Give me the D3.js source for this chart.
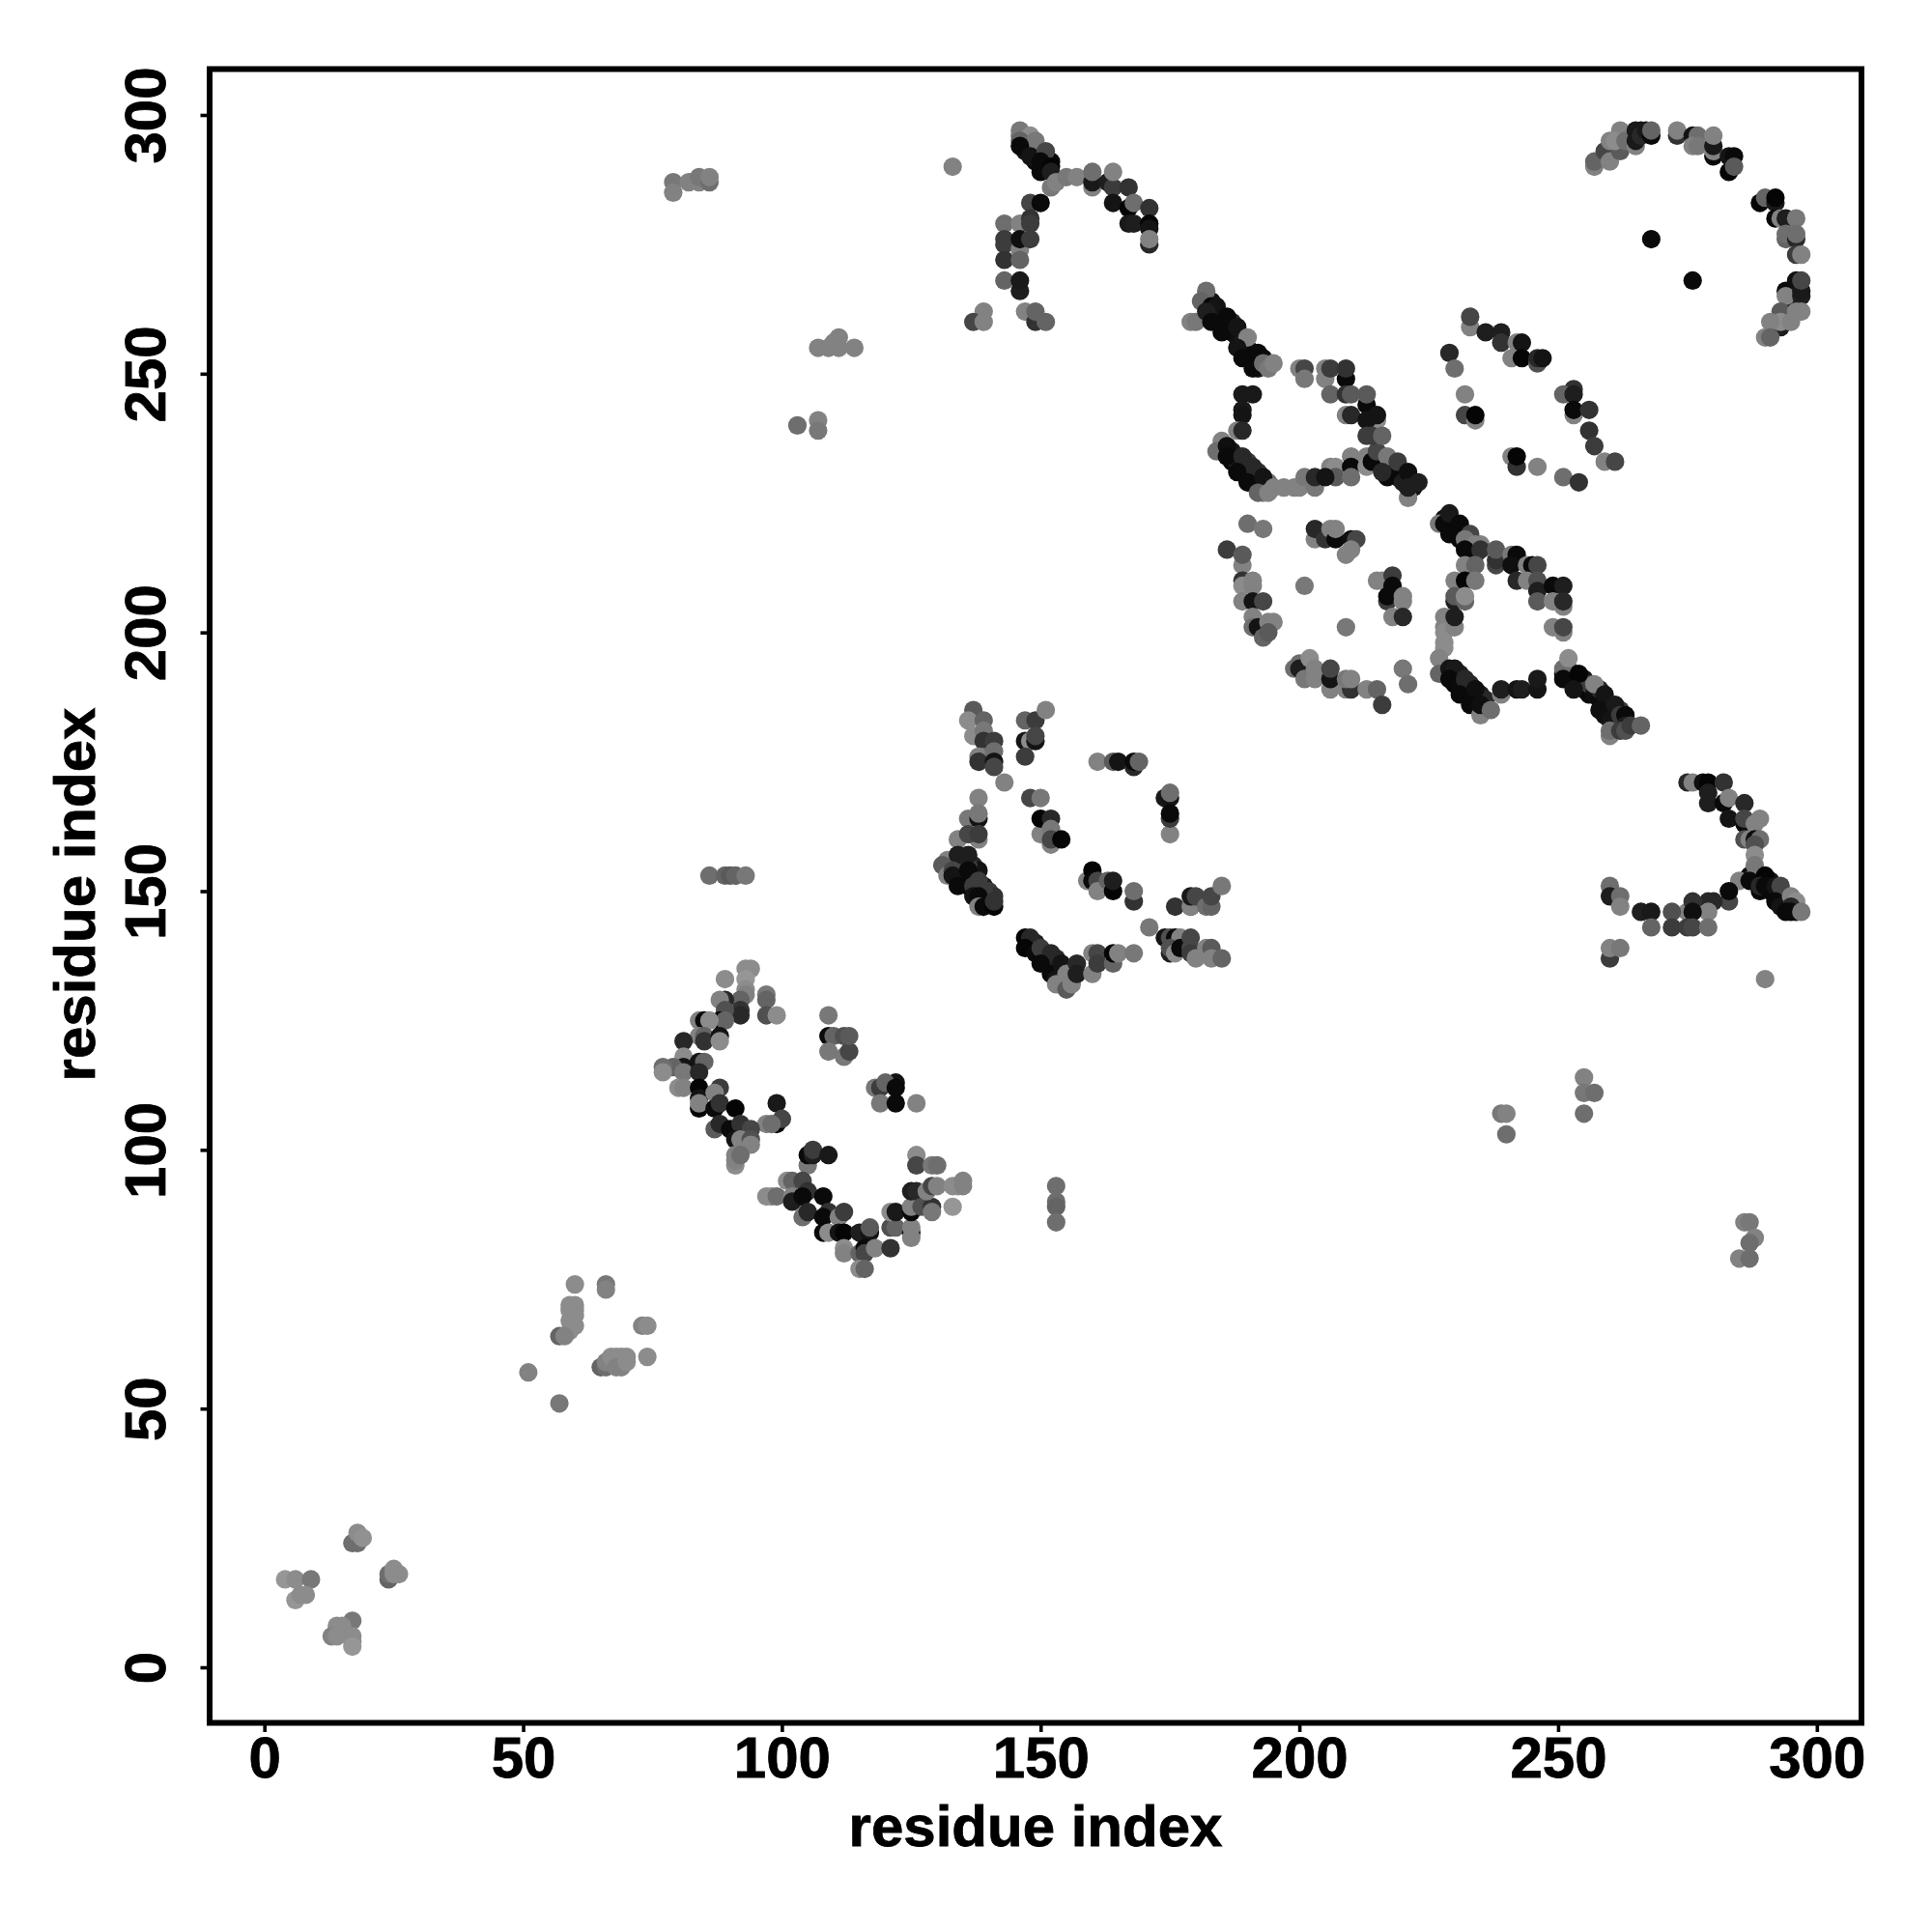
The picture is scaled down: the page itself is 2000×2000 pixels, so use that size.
<!DOCTYPE html>
<html><head><meta charset="utf-8">
<script src="https://cdn.jsdelivr.net/npm/d3@7"></script>
<style>html,body{margin:0;background:#fff}svg{display:block}</style></head>
<body><svg id="c" width="2000" height="2000"></svg>
<script>
// each contact: [residue i, residue j, level]
const bandE=[[183,264,20],[184,262,15],[185,261,30],[186,259,10],[187,260,40],[187,258,10],[188,257,15],[189,256,25],[190,255,15],[190,253,10],[191,254,10],[192,252,5],[193,253,15],[192,251,20],[185,235,10],[187,235,25],[187,233,10],[188,233,50],[189,232,10],[190,233,60],[190,231,15],[191,230,5],[192,229,10],[192,231,50],[193,228,10],[194,229,110],[193,227,130],[215,233,10],[216,234,40],[216,232,15],[217,232,50],[218,231,15],[218,233,70],[219,230,20],[219,232,30],[220,231,20],[220,230,10],[221,229,15],[222,229,30],[222,228,20]];
const bandG=[[228,222,15],[229,221,25],[229,220,10],[230,221,25],[230,219,5],[231,220,30],[231,218,10],[232,219,60],[232,217,15],[233,217,10],[233,218,100],[233,216,20],[234,215,30],[235,217,130],[229,192,15],[230,191,10],[230,190,5],[231,192,30],[231,190,20],[232,189,10],[233,190,40],[233,188,10],[234,187,10],[235,188,30],[235,187,5],[236,186,20],[234,188,80],[236,187,40],[251,192,15],[252,193,100],[252,191,10],[253,192,30],[254,190,10],[255,189,15],[255,191,20],[256,188,10],[256,190,60],[257,188,15],[258,187,10],[258,189,40],[259,186,15],[259,184,15],[260,185,10],[261,184,15],[261,183,10],[262,185,60],[262,183,30]];
const bandD=[[135,155,30],[136,153,15],[137,153,10],[137,155,40],[138,151,5],[138,154,20],[139,149,10],[139,151,30],[140,149,20],[140,148,5],[140,150,60],[141,149,50],[136,155,60],[148,140,10],[149,140,30],[149,139,15],[150,138,10],[151,138,30],[151,137,5],[152,136,20],[153,135,10],[153,137,40],[154,134,10],[155,135,30],[154,133,60],[156,134,40]];
const bandH=[[146,296,110],[147,293,20],[147,295,70],[147,294,15],[148,294,20],[148,293,30],[149,293,40],[149,291,10],[149,292,15],[150,293,50],[150,292,30],[151,291,20],[151,290,15],[152,291,10],[264,296,30],[265,296,15],[266,297,20]];
const bandJ=[[287,153,15],[288,152,5],[288,153,100],[289,152,10],[290,152,10],[291,150,15],[291,152,20],[292,150,15],[292,149,10],[293,149,10],[293,150,40],[294,148,10],[294,149,30],[295,148,15],[296,147,15],[296,146,20]];
const clusterA=[[4,17,150],[6,17,140],[9,17,120],[6,13,150],[7,14,140],[8,14,140],[17,9,120],[14,8,140],[15,8,140],[13,6,130],[14,6,140],[17,6,140],[17,5,140],[17,4,150],[17,24,110],[18,24,110],[18,26,140],[19,25,145],[24,17,100],[24,18,110],[25,18,140],[26,18,140],[25,19,140]];
const clusterB=[[51,57,130],[57,51,120],[60,74,140],[66,74,120],[66,73,130],[59,70,140],[60,70,140],[59,69,140],[60,69,140],[60,68,140],[59,67,140],[60,66,140],[59,65,140],[57,64,100],[58,64,130],[73,66,130],[74,66,140],[74,60,140],[65,58,100],[66,58,110],[66,59,130],[67,60,140],[68,60,140],[69,60,140],[70,60,140],[68,58,130],[69,58,130],[70,59,140]];
const isolated=[[79,287,120],[79,285,130],[82,287,130],[84,287,130],[84,288,120],[86,287,110],[86,288,130],[133,290,130],[109,255,130],[107,255,130],[111,255,130],[111,257,130],[110,256,130],[114,255,130],[103,240,110],[107,241,130],[107,239,120],[86,153,110],[89,153,100],[90,153,90],[91,153,100],[93,153,120],[153,93,110],[153,90,110],[153,89,100],[153,86,110],[255,114,130],[255,111,120],[257,111,110],[255,107,110],[239,107,120],[240,107,130],[240,103,110],[286,86,130],[287,86,120],[288,83,130],[287,82,110],[285,79,130],[287,79,110],[290,133,130]];
const clusterC=[[89,133,140],[93,135,140],[94,135,140],[93,133,150],[93,131,140],[93,130,130],[92,129,100],[92,127,50],[92,126,40],[89,129,40],[88,129,130],[89,127,80],[88,125,10],[89,125,100],[97,130,120],[97,129,100],[97,126,80],[99,126,140],[84,125,130],[85,125,10],[86,125,140],[84,122,130],[85,122,100],[85,121,50],[88,122,20],[88,121,140],[81,121,40],[81,118,140],[81,116,20],[79,116,100],[77,116,110],[77,115,140],[81,115,120],[84,117,20],[85,117,100],[84,115,40],[80,112,140],[81,112,130],[84,112,5],[84,110,20],[84,108,5],[84,109,130],[88,112,60],[87,111,130],[87,108,10],[88,109,50],[91,108,5],[99,109,25],[99,105,5],[100,106,70],[97,105,130],[98,105,110],[87,104,90],[88,105,40],[90,104,10],[92,105,50],[94,104,70],[91,102,20],[92,102,130],[94,102,80],[94,101,130],[91,97,140],[91,98,130],[91,99,130],[92,99,110],[109,122,10],[110,122,100],[112,122,80],[109,126,120],[109,119,120],[112,118,120],[113,119,70],[113,122,90],[118,112,120],[119,112,60],[122,113,20],[120,113,100],[122,112,10],[119,109,120],[122,109,10],[126,109,130],[105,97,120],[105,99,10],[106,99,30],[106,100,60],[109,99,25],[97,91,140],[98,91,140],[99,91,110],[101,94,140],[102,94,100],[104,94,70],[102,91,130],[102,90,30],[105,92,50],[104,91,10],[108,91,10],[104,87,110],[105,88,40],[109,88,50],[108,87,10],[111,87,130],[112,88,60],[108,84,10],[109,84,140],[111,84,20],[112,84,5],[115,84,30],[117,84,20],[117,85,90],[112,81,140],[112,80,130],[115,80,100],[116,81,10],[116,80,70],[118,81,130],[115,77,140],[116,77,100],[121,81,50],[121,85,80],[122,85,100],[121,88,140],[122,88,25],[125,84,10],[125,83,130],[125,85,130],[125,88,10],[125,89,130],[125,92,30],[126,92,40],[126,99,140],[126,97,70],[129,97,120],[130,97,110],[127,89,80],[129,89,50],[129,88,120],[128,92,130],[129,93,70],[130,93,130],[133,89,150],[133,93,140],[134,93,140],[135,93,130],[135,94,130]];
const clusterD=[[137,185,90],[136,183,140],[139,183,100],[137,180,140],[139,181,120],[139,179,50],[141,179,60],[139,176,100],[138,176,130],[138,175,50],[141,177,110],[141,175,20],[141,174,70],[143,171,130],[147,183,100],[149,183,60],[151,185,130],[147,179,20],[148,179,140],[149,179,20],[149,180,70],[147,176,60],[161,175,130],[164,175,90],[165,175,20],[168,174,40],[168,175,10],[169,175,100],[174,168,25],[175,168,20],[175,169,110],[175,161,130],[175,164,60],[175,165,10],[138,168,130],[136,164,120],[138,164,20],[138,165,120],[134,160,130],[138,160,130],[136,161,70],[138,161,60],[132,156,130],[131,155,90],[132,153,130],[134,157,30],[136,157,30],[133,154,70],[133,153,20],[136,154,10],[134,151,10],[136,151,10],[137,151,60],[138,152,60],[139,150,60],[137,149,20],[138,149,10],[138,147,130],[139,147,10],[141,147,5],[141,148,50],[148,168,70],[150,168,120],[150,161,130],[150,164,5],[152,164,40],[152,162,120],[152,159,130],[152,160,70],[154,160,5],[159,152,130],[160,154,5],[160,152,10],[161,152,70],[161,150,130],[163,152,100],[164,150,5],[164,152,30],[168,148,50],[168,150,110],[171,143,120],[176,147,50],[179,147,30],[179,147,130],[179,149,25],[180,149,70],[182,147,110],[183,147,100],[183,149,70],[185,151,120],[174,141,20],[175,141,80],[176,141,10],[177,141,130],[175,138,30],[175,139,80],[176,138,140],[177,139,10],[179,141,70],[179,139,70],[179,138,60],[180,137,130],[182,139,130],[183,139,90],[183,137,130],[185,137,100],[147,141,5],[148,141,40],[147,139,5],[149,138,10],[150,139,60],[152,138,40],[150,136,10],[152,134,10],[154,136,20],[153,133,20],[153,132,130],[155,131,90],[155,134,130],[156,132,130],[157,136,40],[157,134,30],[160,134,130],[160,138,130],[161,138,70],[161,136,60],[164,136,100],[164,138,5],[165,138,130],[168,138,120]];
const clusterE=[[182,266,110],[181,264,100],[179,260,130],[180,260,120],[183,263,5],[184,263,20],[182,262,30],[183,260,10],[186,261,10],[185,258,10],[188,259,20],[190,257,130],[188,255,20],[189,253,10],[192,254,10],[191,251,10],[193,252,110],[194,251,120],[195,252,130],[189,246,25],[191,246,25],[189,243,25],[189,242,20],[188,239,130],[189,239,40],[185,237,130],[184,235,110],[186,236,15],[186,234,10],[189,234,40],[191,232,40],[188,231,10],[190,229,10],[193,230,20],[192,227,100],[194,227,130],[195,228,130],[197,228,130],[199,228,130],[200,228,130],[201,230,120],[203,228,120],[203,230,40],[206,232,130],[207,232,140],[207,230,90],[205,230,20],[210,234,130],[210,232,10],[210,230,110],[213,234,130],[213,232,140],[214,233,10],[215,235,70],[217,234,120],[219,233,60],[217,230,10],[216,231,40],[220,229,30],[221,231,15],[221,226,130],[221,228,30],[223,229,30],[200,251,130],[201,251,70],[201,249,120],[205,249,130],[205,251,130],[206,251,60],[209,249,10],[209,251,50],[206,246,100],[209,246,50],[210,246,90],[213,244,10],[213,246,90],[209,242,130],[210,242,40],[215,241,140],[215,242,20],[213,241,20],[213,238,60],[214,238,60],[216,238,100],[233,259,130],[233,261,70],[236,258,30],[239,258,30],[239,256,50],[242,256,130],[243,256,20],[241,253,130],[243,253,5],[246,252,80],[246,253,40],[247,253,20],[229,254,40],[230,251,110],[232,246,130],[232,242,70],[234,241,130],[234,242,5],[241,234,130],[242,232,50],[242,234,5],[246,232,130],[251,230,110],[254,229,50],[253,247,50],[251,246,100],[253,246,30],[253,242,130],[253,243,10],[256,243,50],[256,239,50],[257,236,60],[259,233,130],[261,233,70]];
const clusterF=[[190,221,110],[193,220,120],[186,216,60],[189,213,130],[189,215,90],[189,210,50],[189,209,140],[191,209,130],[191,210,130],[189,206,130],[191,206,20],[193,206,70],[191,203,130],[191,201,110],[193,201,120],[192,201,20],[194,202,130],[195,202,130],[193,199,100],[194,200,90],[201,209,120],[209,201,120],[203,218,130],[203,220,40],[205,218,50],[206,220,130],[207,218,10],[207,220,130],[210,218,15],[211,218,70],[209,215,130],[210,216,130],[215,210,130],[216,210,130],[218,211,60],[218,209,10],[217,206,60],[217,207,10],[220,206,130],[220,207,130],[218,203,130],[220,203,40],[199,193,110],[200,194,110],[200,193,30],[201,191,120],[202,195,140],[203,193,130],[203,191,130],[206,189,130],[206,191,20],[206,193,70],[209,189,130],[210,189,50],[209,191,120],[210,191,130],[213,189,130],[215,189,100],[216,186,60],[220,193,120],[221,190,110]];
const clusterG=[[228,203,130],[228,201,130],[228,200,140],[228,198,140],[228,197,140],[227,195,130],[227,192,100],[230,201,130],[230,203,30],[229,193,20],[230,193,25],[229,191,10],[232,191,40],[231,188,10],[234,189,15],[233,186,10],[235,184,130],[235,186,15],[237,185,110],[239,188,130],[239,189,30],[242,189,20],[243,189,30],[246,189,20],[246,191,25],[227,221,120],[228,221,10],[229,223,25],[231,221,10],[229,219,10],[233,219,70],[232,218,120],[234,217,130],[232,216,10],[235,216,50],[232,213,130],[234,213,100],[238,213,70],[238,214,50],[238,216,90],[241,215,120],[242,215,10],[241,213,15],[244,213,130],[245,213,10],[246,213,70],[230,210,130],[232,210,5],[234,210,120],[230,206,30],[230,207,90],[232,206,100],[232,207,140],[242,210,40],[244,210,130],[246,210,80],[246,208,30],[246,206,90],[249,209,10],[251,209,30],[249,206,130],[251,205,130],[251,206,40],[249,201,130],[251,200,130],[251,201,70],[251,193,110],[252,195,140],[251,191,10],[254,192,5],[253,189,20],[257,190,130],[259,188,20],[258,185,15],[261,186,25],[260,183,20],[260,180,130],[260,181,110],[262,184,60],[263,184,10],[263,182,30],[262,181,60],[263,181,80],[264,182,60],[266,182,100]];
const clusterH=[[146,297,120],[148,296,140],[146,295,100],[149,295,120],[146,294,10],[148,292,20],[151,293,70],[150,291,10],[150,289,10],[152,290,5],[152,289,30],[152,286,120],[153,287,130],[155,288,120],[157,288,130],[160,286,130],[160,287,25],[160,289,110],[163,287,30],[164,286,60],[164,289,130],[167,286,50],[164,283,20],[167,282,5],[168,283,110],[171,282,50],[167,279,25],[168,279,30],[171,279,5],[171,278,20],[171,275,40],[171,276,130],[148,283,70],[150,283,10],[143,279,110],[146,279,130],[148,280,50],[148,279,60],[143,276,60],[143,275,60],[146,274,130],[146,276,15],[148,276,60],[143,272,50],[146,272,100],[143,268,100],[146,266,30],[146,268,25],[139,262,130],[137,260,70],[139,260,130],[147,262,130],[149,260,50],[149,262,100],[151,260,100]];
const clusterI=[[257,290,130],[257,291,100],[259,293,70],[260,291,130],[260,295,130],[262,293,90],[262,297,130],[261,295,140],[263,295,110],[265,294,130],[265,295,25],[265,297,25],[266,296,40],[267,297,25],[268,296,10],[268,297,100],[273,296,50],[273,297,130],[276,296,20],[277,296,110],[276,294,130],[277,294,120],[280,292,10],[280,293,130],[280,294,25],[280,296,130],[283,289,5],[283,292,20],[284,292,10],[284,290,90],[268,276,10],[276,268,10],[289,283,5],[290,284,100],[292,283,25],[292,284,5],[292,280,10],[293,280,130],[294,280,30],[296,280,120],[294,276,100],[294,277,110],[296,276,40],[296,277,110],[296,273,60],[297,273,130],[294,266,10],[295,264,25],[294,265,130],[296,268,15],[297,265,30],[297,266,25],[297,268,70],[293,262,90],[296,262,130],[297,262,130],[293,259,30],[293,260,140],[295,260,130],[291,260,130],[290,257,130],[291,257,100]];
const clusterJ=[[275,171,40],[276,171,130],[278,171,15],[279,171,5],[282,171,50],[279,167,30],[279,169,30],[282,167,10],[283,168,130],[286,167,40],[283,164,20],[286,163,10],[286,164,70],[289,164,130],[288,163,130],[286,160,80],[287,160,130],[288,160,15],[289,160,110],[288,159,80],[288,157,140],[288,155,120],[285,152,130],[287,152,10],[290,153,5],[289,150,10],[289,151,40],[290,151,10],[292,151,20],[293,151,70],[292,148,10],[293,147,20],[295,149,130],[296,148,140],[295,147,40],[294,146,10],[295,146,10],[297,146,120],[283,148,70],[283,150,10],[280,148,40],[279,148,40],[279,146,130],[275,146,130],[276,148,50],[276,146,15],[272,146,80],[266,146,30],[268,146,25],[268,143,100],[272,143,60],[275,143,60],[276,143,70],[279,143,110],[260,151,110],[260,149,30],[262,149,110],[262,147,130],[260,137,60],[260,139,130],[262,139,120]];
const xTicks=[0,50,100,150,200,250,300];
const yTicks=[0,50,100,150,200,250,300];
const axisTitle="residue index";

const contacts=[bandE,bandG,bandD,bandH,bandJ,clusterA,clusterB,isolated,clusterC,clusterD,clusterE,clusterF,clusterG,clusterH,clusterI,clusterJ].flat();
const frame={l:217,r:1927,t:71.5,b:1783.5};
const x=d3.scaleLinear().domain([0,300]).range([273.7,1880.8]);
const y=d3.scaleLinear().domain([0,300]).range([1726,119]);
const shade=d3.scaleLinear().domain([0,255]).range(["#000","#fff"]);
const svg=d3.select("#c");
const FONT="'Liberation Sans',Arial,sans-serif";

svg.append("g").selectAll("circle").data(contacts).join("circle")
  .attr("cx",d=>x(d[0])).attr("cy",d=>y(d[1])).attr("r",9.6).attr("fill",d=>shade(d[2]));

svg.append("rect").attr("x",frame.l).attr("y",frame.t).attr("width",frame.r-frame.l).attr("height",frame.b-frame.t)
  .attr("fill","none").attr("stroke","#000").attr("stroke-width",6);

const gx=svg.append("g").attr("transform",`translate(0,${frame.b})`)
  .call(d3.axisBottom(x).tickValues(xTicks).tickFormat(d3.format("d")).tickSize(9.5).tickPadding(5));
const gy=svg.append("g").attr("transform",`translate(${frame.l},0)`)
  .call(d3.axisLeft(y).tickValues(yTicks).tickFormat(d3.format("d")).tickSize(9.5));
gx.select(".domain").remove(); gy.select(".domain").remove();
svg.selectAll(".tick line").attr("stroke","#000").attr("stroke-width",3.6);
gx.selectAll("text").attr("font-family",FONT).attr("font-weight","bold").attr("font-size",60)
  .attr("fill","#000").attr("stroke","#000").attr("stroke-width",0.8).attr("text-anchor","middle").attr("dy",null).attr("y",56);
gy.selectAll("text").attr("font-family",FONT).attr("font-weight","bold").attr("font-size",60)
  .attr("fill","#000").attr("stroke","#000").attr("stroke-width",0.8).attr("text-anchor","middle").attr("dy",null).attr("x",null)
  .attr("transform","translate(-46,0) rotate(-90)");
svg.append("text").text(axisTitle).attr("x",1072).attr("y",1911)
  .attr("text-anchor","middle").attr("font-family",FONT).attr("font-weight","bold").attr("font-size",60).attr("stroke","#000").attr("stroke-width",0.8);
svg.append("text").text(axisTitle).attr("transform","translate(98,926) rotate(-90)")
  .attr("text-anchor","middle").attr("font-family",FONT).attr("font-weight","bold").attr("font-size",60).attr("stroke","#000").attr("stroke-width",0.8);
</script></body></html>
